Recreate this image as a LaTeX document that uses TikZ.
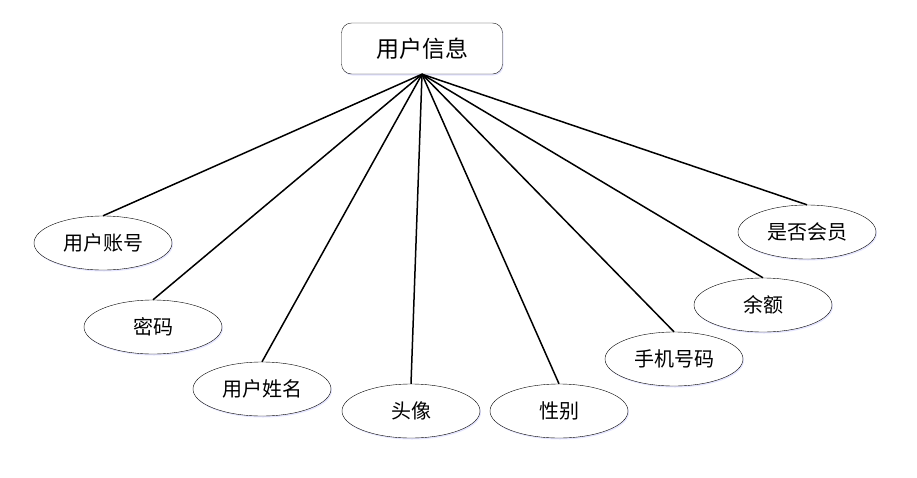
\documentclass[tikz,border=0pt]{standalone}
\usepackage{fontspec}
\newfontfamily\cjk{Noto Sans CJK SC}
\usetikzlibrary{shapes.geometric,shadows}
\begin{document}
\begin{tikzpicture}[x=1pt,y=-1pt]
\tikzstyle{entity}=[draw=black!90,fill=white,rounded corners=10pt,minimum width=161pt,minimum height=51pt,font=\cjk\fontsize{23}{27}\selectfont,drop shadow={fill=blue!40,opacity=0.25,shadow xshift=1pt,shadow yshift=-1.5pt}]
\tikzstyle{attr}=[draw,ellipse,fill=white,minimum width=138pt,minimum height=54pt,inner sep=0pt,font=\cjk\fontsize{20}{24}\selectfont,drop shadow={fill=blue!40,opacity=0.25,shadow xshift=1pt,shadow yshift=-1.5pt}]
\tikzstyle{link}=[line width=1.5pt]
\useasboundingbox (0,0) rectangle (917,477);
\path (422,48.5) node[entity](info){用户信息};
\path (103,243) node[attr](acct){用户账号}
      (153,327) node[attr](pwd){密码}
      (262,389) node[attr](uname){用户姓名}
      (411,411) node[attr](avatar){头像}
      (559,411) node[attr](sex){性别}
      (674,359) node[attr](phone){手机号码}
      (763,305) node[attr](balance){余额}
      (807,232) node[attr](vip){是否会员};
\draw[link] (info.south) -- (acct.north);
\draw[link] (info.south) -- (pwd.north);
\draw[link] (info.south) -- (uname.north);
\draw[link] (info.south) -- (avatar.north);
\draw[link] (info.south) -- (sex.north);
\draw[link] (info.south) -- (phone.north);
\draw[link] (info.south) -- (balance.north);
\draw[link] (info.south) -- (vip.north);
\end{tikzpicture}
\end{document}
